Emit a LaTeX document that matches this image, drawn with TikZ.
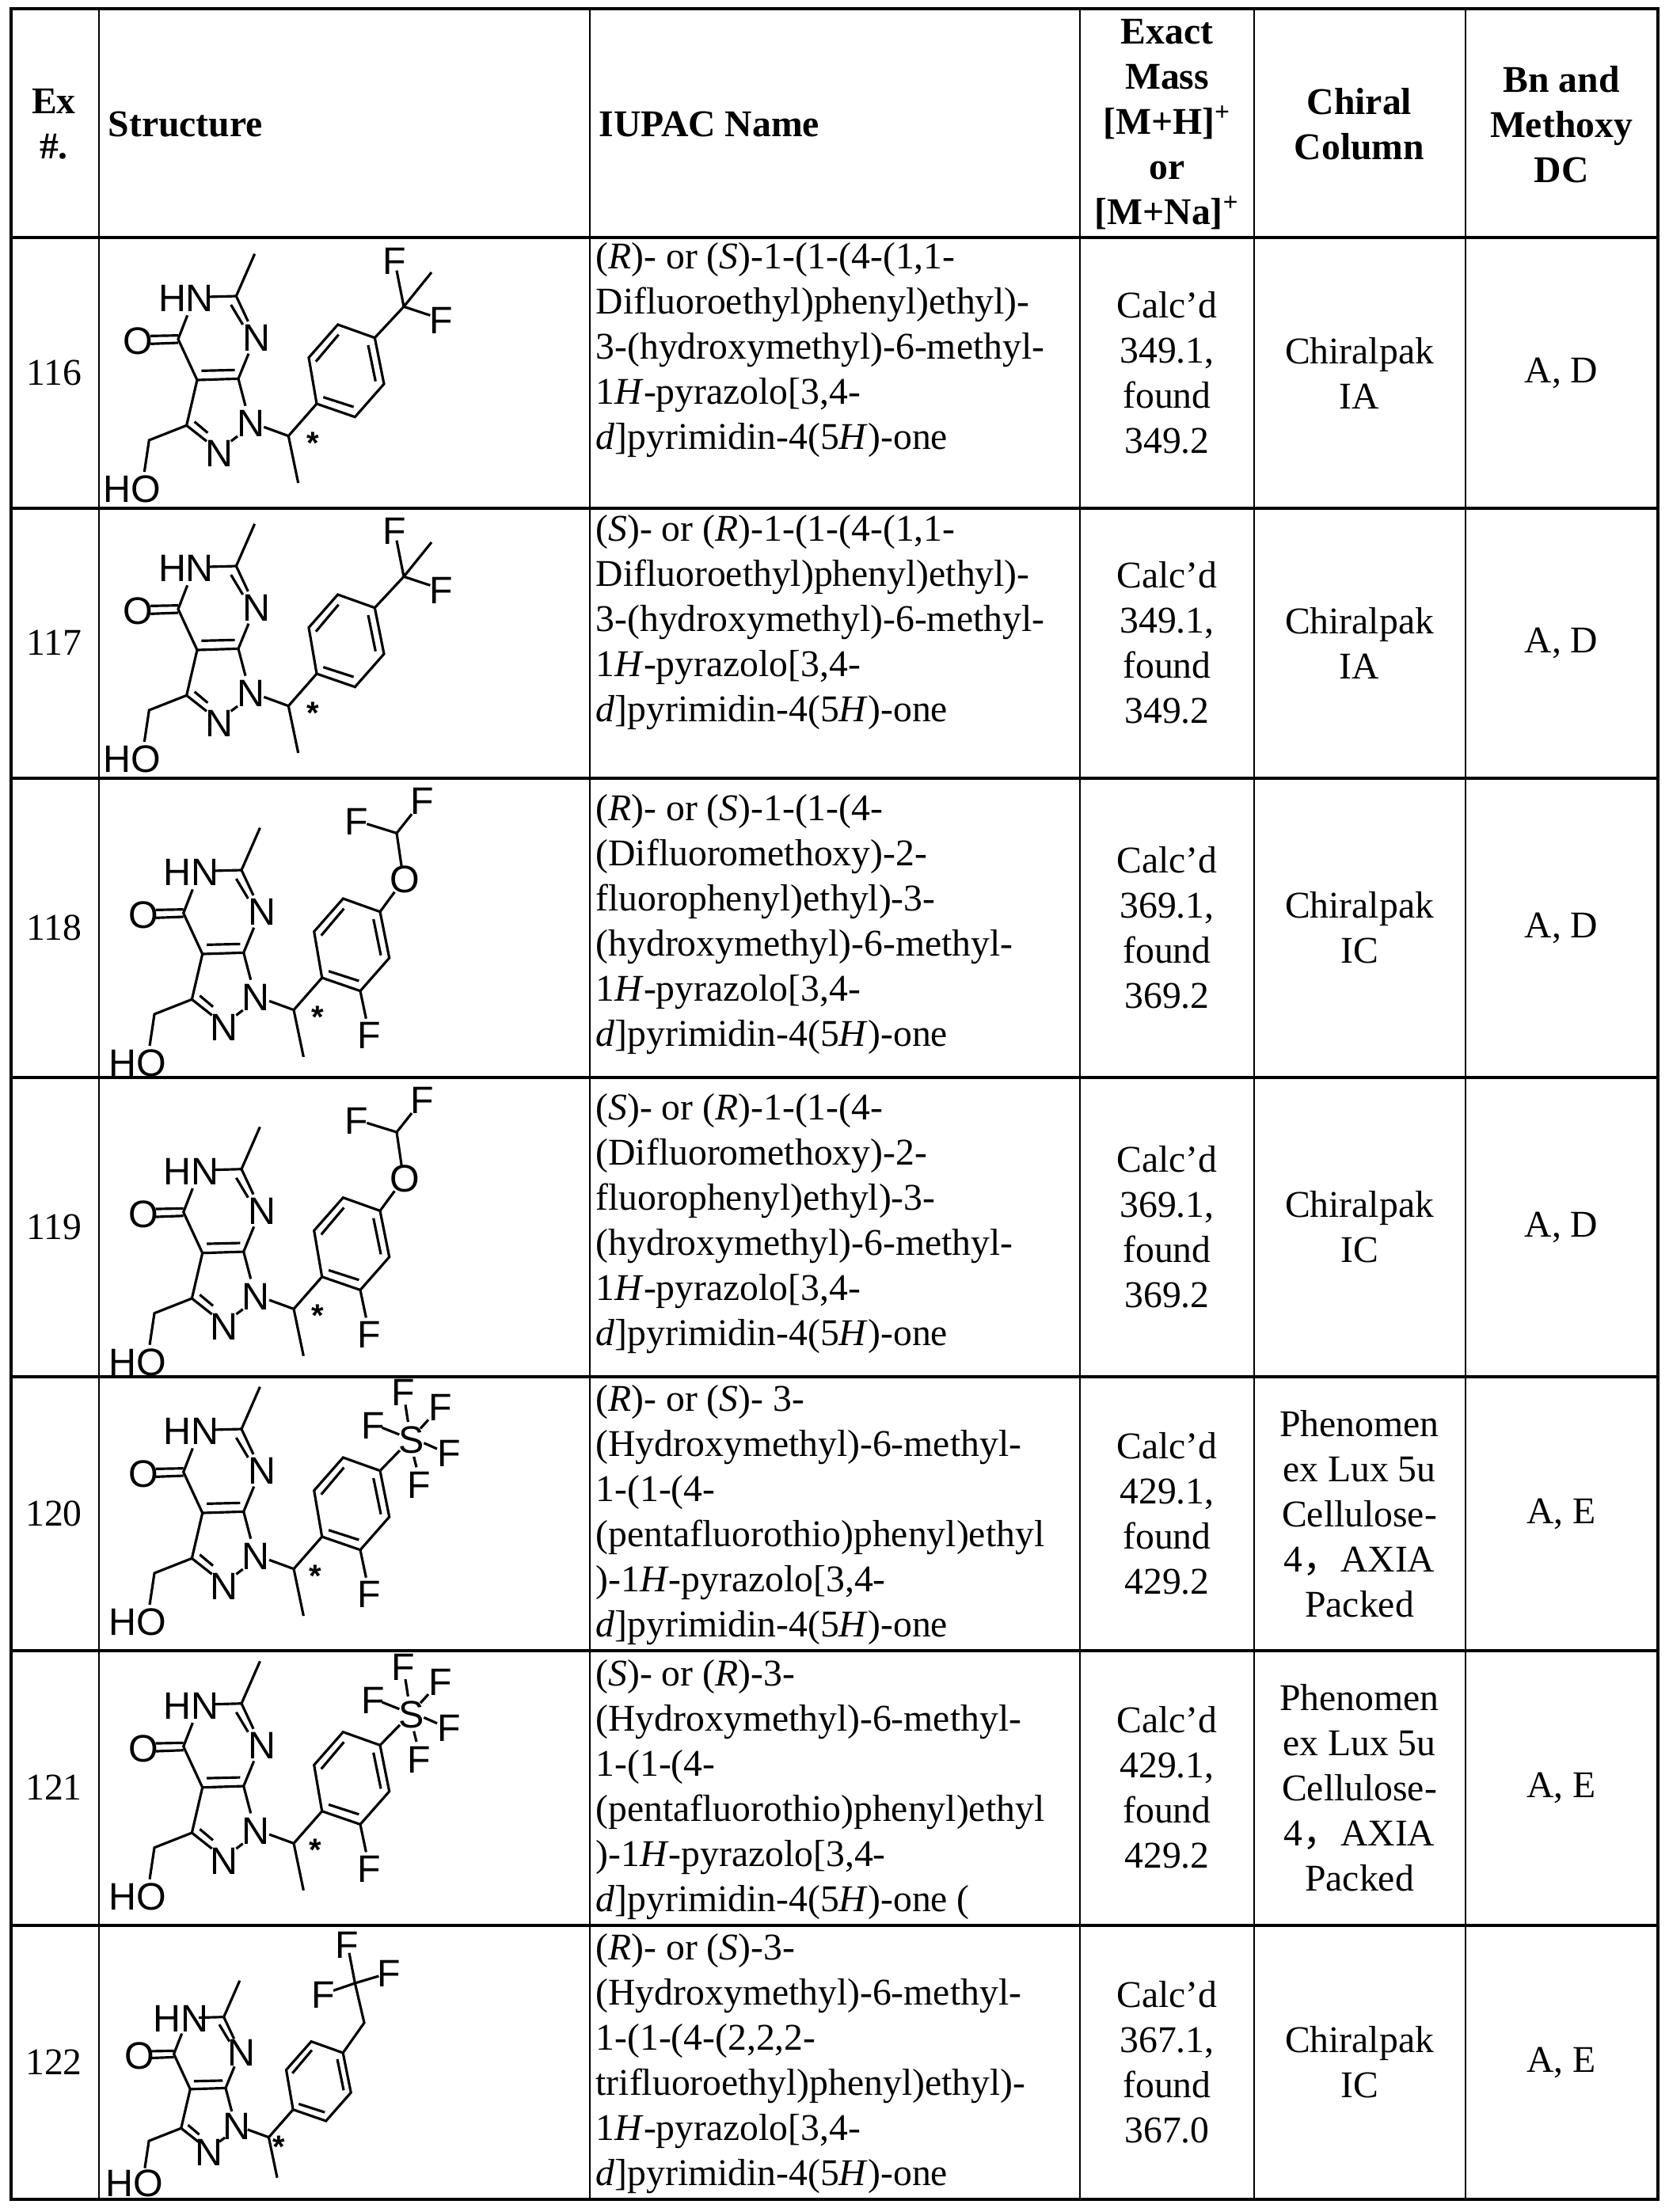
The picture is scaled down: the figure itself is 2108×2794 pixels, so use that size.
\documentclass[tikz,border=0pt]{standalone}
\usepackage{fontspec}
\setmainfont{Liberation Serif}
\newfontfamily\chemfont{Liberation Sans}
\newfontfamily\cjk{Noto Sans CJK SC}
\begin{document}
\begin{tikzpicture}[x=0.3pt,y=-0.3pt,
  txt/.style={font=\fontsize{14.3}{17.1}\selectfont,inner sep=0pt},
  ctr/.style={txt,align=center},
  lft/.style={txt,align=left,anchor=west},
  hdr/.style={font=\fontsize{14.3}{17.1}\selectfont\bfseries,inner sep=0pt,align=center},
  bond/.style={line width=0.95pt},
  atm/.style={font=\chemfont\fontsize{14.5}{15}\selectfont,inner sep=0pt},
  grid/.style={line width=0.7pt},
  outer/.style={line width=1.3pt}]
\useasboundingbox (0,0) rectangle (2108,2794);
% ---------- table ----------
\draw[outer] (14,11) rectangle (2094,2778);
\foreach \x in {125,745,1364,1584,1851} \draw[grid] (\x,11)--(\x,2778);
\foreach \y in {300,642,983,1361,1739,2085,2432} \draw[line width=1pt] (14,\y)--(2094,\y);
% ---------- header ----------
\node[hdr] (hex) at (68,157) {Ex\\\#.};
\node[hdr,anchor=west] (hst) at (136,157) {Structure};
\node[hdr,anchor=west] (hiu) at (756,157) {IUPAC Name};
\node[hdr] (hms) at (1474,157) {Exact\\Mass\\{}[M+H]\textsuperscript{+}\\or\\{}[M+Na]\textsuperscript{+}};
\node[hdr] (hcc) at (1717,157) {Chiral\\Column};
\node[hdr] (hdc) at (1972,157) {Bn and\\Methoxy\\DC};
% ---------- structure macros ----------
\newcommand\corestruct{%
  \draw[bond] (590,62)--(520,222);
  \draw[bond] (410,225)--(520,222);
  \draw[bond] (520,222)--(565,318);
  \draw[bond] (500,255)--(545,330);
  \draw[bond] (567,440)--(528,535);
  \draw[bond] (528,535)--(372,540);
  \draw[bond] (388,505)--(515,502);
  \draw[bond] (372,540)--(300,385)--(335,295);
  \draw[bond] (300,371)--(195,373);
  \draw[bond] (300,399)--(195,403);
  \draw[bond] (372,540)--(332,712);
  \draw[bond] (332,712)--(408,772);
  \draw[bond] (362,698)--(412,740);
  \draw[bond] (500,772)--(525,753);
  \draw[bond] (528,535)--(555,638);
  \draw[bond] (625,718)--(718,752)--(755,930);
  \draw[bond] (718,752)--(825,630);
  \draw[bond] (332,712)--(190,768)--(172,888);
  \node[atm] (hn) at (330,230) {HN};
  \node[atm] (n7) at (597,380) {N};
  \node[atm] (ox) at (148,392) {O};
  \node[atm] (n2) at (455,818) {N};
  \node[atm] (n1) at (575,705) {N};
  \node[atm] (ho) at (125,955) {HO};
  \draw[bond] (825,630)--(795,455)--(905,330)--(1045,380)--(1080,555)--(970,680)--cycle;
  \draw[bond] (822,470)--(908,368);
  \draw[bond] (1020,408)--(1048,545);
  \draw[bond] (850,605)--(965,642);
}
\newcommand\starat[2]{\node[font=\chemfont\bfseries\fontsize{12}{12}\selectfont,inner sep=0pt] at (#1,#2) {*};}
\newcommand\cftwo{%
  \draw[bond] (1045,380)--(1155,262)--(1260,132);
  \draw[bond] (1155,262)--(1128,125);
  \draw[bond] (1155,262)--(1255,295);
  \node[atm] (fa) at (1120,90) {F};
  \node[atm] (fb) at (1298,315) {F};
}
\newcommand\ocfhtwo{%
  \draw[bond] (1045,380)--(1100,305);
  \node[atm] (oo) at (1140,258) {O};
  \draw[bond] (1127,212)--(1108,82);
  \draw[bond] (1108,82)--(995,47);
  \draw[bond] (1108,82)--(1165,10);
  \node[atm] (fa) at (957,40) {F};
  \node[atm] (fb) at (1205,-40) {F};
}
\newcommand\orthof{%
  \draw[bond] (970,680)--(992,785);
  \node[atm] (fo) at (1005,850) {F};
}
\newcommand\sffive{%
  \draw[bond] (1045,380)--(1120,303);
  \node[atm] (ss) at (1163,263) {S};
  \draw[bond] (1141,130)--(1151,195);
  \node[atm] at (1133,85) {F};
  \draw[bond] (1228,187)--(1198,220);
  \node[atm] at (1275,140) {F};
  \draw[bond] (1053,217)--(1118,243);
  \node[atm] at (1018,210) {F};
  \draw[bond] (1211,275)--(1261,297);
  \node[atm] at (1308,315) {F};
  \draw[bond] (1173,327)--(1183,367);
  \node[atm] at (1193,435) {F};
}
% ---------- structures ----------
\begin{scope}[shift={(125,300)},scale=1/3] \corestruct \starat{810}{778} \cftwo \end{scope}
\begin{scope}[shift={(125,641)},scale=1/3] \corestruct \starat{810}{778} \cftwo \end{scope}
\begin{scope}[shift={(131.7,1025)},scale=1/3] \corestruct \starat{810}{778} \ocfhtwo \orthof \end{scope}
\begin{scope}[shift={(131.7,1402.7)},scale=1/3] \corestruct \starat{810}{778} \ocfhtwo \orthof \end{scope}
\begin{scope}[shift={(131.7,1731)},scale=1/3] \corestruct \starat{800}{778} \sffive \orthof \end{scope}
\begin{scope}[shift={(131.7,2077.7)},scale=1/3] \corestruct \starat{800}{778} \sffive \orthof \end{scope}
\begin{scope}[shift={(133.6,2484)},scale=0.2867] \corestruct \starat{764}{794}
  \draw[bond] (1045,380)--(1138.6,247.6)--(1097.9,73.1);
  \draw[bond] (1097.9,73.1)--(1072.3,-60.5);
  \draw[bond] (1097.9,73.1)--(1202.6,41.7);
  \draw[bond] (1097.9,73.1)--(1002.6,105.7);
  \node[atm] at (1063,-95.5) {F};
  \node[atm] at (1249,32.4) {F};
  \node[atm] at (958.4,125.4) {F};
\end{scope}
% ---------- rows ----------
\newcommand\rowtext[7]{%
  \node[ctr] (ex#1) at (68,#2) {#1};
  \node[lft] (iu#1) at (752,#3) {#4};
  \node[ctr] (ms#1) at (1474,#2) {#5};
  \node[ctr] (cc#1) at (1717,#2) {#6};
  \node[ctr] (dc#1) at (1972,#2) {#7};
}
\rowtext{116}{471}{442}{(\textit{R})- or (\textit{S})-1-(1-(4-(1,1-\\Difluoroethyl)phenyl)ethyl)-\\3-(hydroxymethyl)-6-methyl-\\1\textit{H}-pyrazolo[3,4-\\\textit{d}]pyrimidin-4(5\textit{H})-one}{Calc'd\\349.1,\\found\\349.2}{Chiralpak\\IA}{A, D}
\rowtext{117}{812}{786}{(\textit{S})- or (\textit{R})-1-(1-(4-(1,1-\\Difluoroethyl)phenyl)ethyl)-\\3-(hydroxymethyl)-6-methyl-\\1\textit{H}-pyrazolo[3,4-\\\textit{d}]pyrimidin-4(5\textit{H})-one}{Calc'd\\349.1,\\found\\349.2}{Chiralpak\\IA}{A, D}
\rowtext{118}{1172}{1168}{(\textit{R})- or (\textit{S})-1-(1-(4-\\(Difluoromethoxy)-2-\\fluorophenyl)ethyl)-3-\\(hydroxymethyl)-6-methyl-\\1\textit{H}-pyrazolo[3,4-\\\textit{d}]pyrimidin-4(5\textit{H})-one}{Calc'd\\369.1,\\found\\369.2}{Chiralpak\\IC}{A, D}
\rowtext{119}{1550}{1546}{(\textit{S})- or (\textit{R})-1-(1-(4-\\(Difluoromethoxy)-2-\\fluorophenyl)ethyl)-3-\\(hydroxymethyl)-6-methyl-\\1\textit{H}-pyrazolo[3,4-\\\textit{d}]pyrimidin-4(5\textit{H})-one}{Calc'd\\369.1,\\found\\369.2}{Chiralpak\\IC}{A, D}
\rowtext{120}{1912}{1914}{(\textit{R})- or (\textit{S})- 3-\\(Hydroxymethyl)-6-methyl-\\1-(1-(4-\\(pentafluorothio)phenyl)ethyl\\)-1\textit{H}-pyrazolo[3,4-\\\textit{d}]pyrimidin-4(5\textit{H})-one}{Calc'd\\429.1,\\found\\429.2}{Phenomen\\ex Lux 5u\\Cellulose-\\4{\cjk ，}AXIA\\Packed}{A, E}
\rowtext{121}{2258}{2261}{(\textit{S})- or (\textit{R})-3-\\(Hydroxymethyl)-6-methyl-\\1-(1-(4-\\(pentafluorothio)phenyl)ethyl\\)-1\textit{H}-pyrazolo[3,4-\\\textit{d}]pyrimidin-4(5\textit{H})-one (}{Calc'd\\429.1,\\found\\429.2}{Phenomen\\ex Lux 5u\\Cellulose-\\4{\cjk ，}AXIA\\Packed}{A, E}
\rowtext{122}{2605}{2607}{(\textit{R})- or (\textit{S})-3-\\(Hydroxymethyl)-6-methyl-\\1-(1-(4-(2,2,2-\\trifluoroethyl)phenyl)ethyl)-\\1\textit{H}-pyrazolo[3,4-\\\textit{d}]pyrimidin-4(5\textit{H})-one}{Calc'd\\367.1,\\found\\367.0}{Chiralpak\\IC}{A, E}
\end{tikzpicture}
\end{document}
